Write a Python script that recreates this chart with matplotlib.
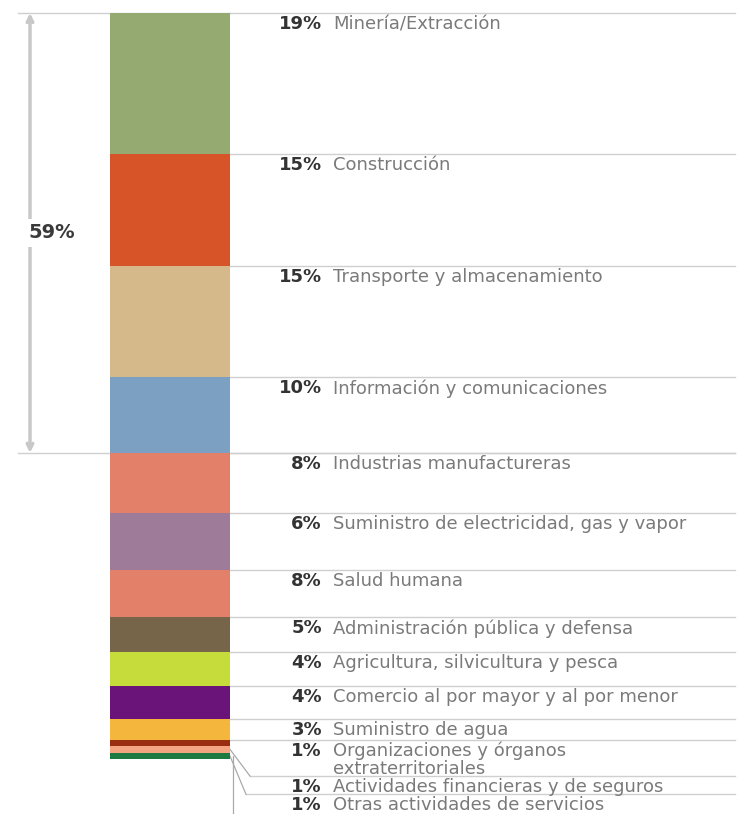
import numpy as np
import matplotlib.pyplot as plt

# shares as drawn (segment heights) and the printed percentages
shares = [19, 15, 15, 10.2, 8.1, 7.7, 6.3, 4.7, 4.6, 4.4, 2.8, 0.85, 0.9, 0.9]
pct_text = [19, 15, 15, 10, 8, 6, 8, 5, 4, 4, 3, 1, 1, 1]
sectors = ["Minería/Extracción", "Construcción", "Transporte y almacenamiento",
           "Información y comunicaciones", "Industrias manufactureras",
           "Suministro de electricidad, gas y vapor", "Salud humana",
           "Administración pública y defensa", "Agricultura, silvicultura y pesca",
           "Comercio al por mayor y al por menor", "Suministro de agua",
           "Organizaciones y órganos\nextraterritoriales",
           "Actividades financieras y de seguros", "Otras actividades de servicios"]
colors = ["#94aa70", "#d65427", "#d5b98a", "#7ba0c1", "#e3806a", "#9d7b99",
          "#e3806a", "#766549", "#c6dc3a", "#6a1479", "#f5b63d", "#9a2c10",
          "#f4a481", "#1e7a40"]
n_big = 11       # rows that sit next to their own segment
n_bracket = 4    # first rows grouped by the 59% bracket

fig = plt.figure(figsize=(7.4, 8.14), dpi=100)
ax = fig.add_axes([0, 0, 1, 1])
ax.set_xlim(0, 740)
ax.set_ylim(107.8, -1.75)
ax.axis("off")

bottoms = np.concatenate([[0], np.cumsum(shares)[:-1]])
bar_x, bar_w = 170, 120
bar_r = bar_x + bar_w / 2
ax.bar(bar_x, shares, width=bar_w, bottom=bottoms, color=colors, zorder=3)

# row tops for the labels
row_tops = list(bottoms[:n_big])
t = bottoms[n_big]
for s in sectors[n_big:]:
    row_tops.append(t)
    t += 2.45 * (s.count("\n") + 1)

line_c = "#cfcfcf"
line_end = 735
fs = 13
for i, (top, p, s) in enumerate(zip(row_tops, pct_text, sectors)):
    x0 = bar_r
    if i > n_big:
        x0 = bar_r + (20 if i == n_big + 1 else 16)
        mid = bottoms[i] + shares[i] / 2
        ax.plot([bar_r, x0], [mid, top], color="#aaaaaa", lw=0.9, zorder=2)
    ax.plot([x0, line_end], [top, top], color=line_c, lw=1, zorder=1)
    ax.annotate(f"{p}%", (322, top), xytext=(0, -1.5), textcoords="offset points",
                ha="right", va="top", fontsize=fs, fontweight="bold",
                color="#333333", annotation_clip=False)
    ax.annotate(s, (333, top), xytext=(0, -1.5), textcoords="offset points",
                ha="left", va="top", fontsize=fs, color="#7a7a7a",
                linespacing=0.95, annotation_clip=False, clip_on=True)

# leader that continues below the visible area
last = len(shares) - 1
ax.plot([bar_r + 3, bar_r + 3], [bottoms[last] + shares[last] / 2, 107.8],
        color="#aaaaaa", lw=0.9, zorder=2)

# 59% bracket
grp = bottoms[n_bracket]
ax.plot([18, bar_r], [0, 0], color=line_c, lw=1, zorder=1)
ax.plot([18, line_end], [grp, grp], color=line_c, lw=1, zorder=1)
ax.annotate("", xy=(30, 0), xytext=(30, grp),
            arrowprops=dict(arrowstyle="<->", color="#c8c8c8", lw=2.5,
                            shrinkA=0, shrinkB=0))
ax.text(52, grp * 0.5, f"{sum(pct_text[:n_bracket])}%", ha="center", va="center",
        fontsize=fs + 1, fontweight="bold", color="#3a3a3a",
        bbox=dict(facecolor="white", edgecolor="none", pad=3), zorder=4)

fig.savefig("out.png", dpi=100)
